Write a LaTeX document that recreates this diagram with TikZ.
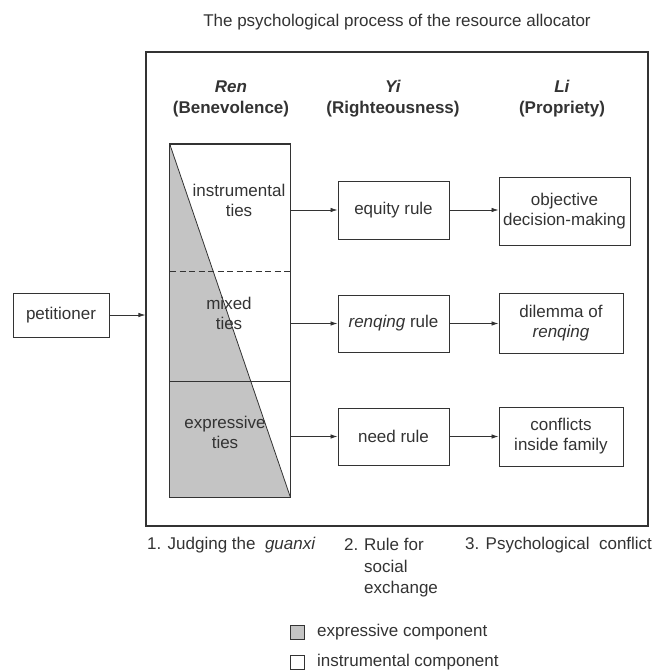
\documentclass[tikz,border=0pt]{standalone}
\usepackage{fontspec}
\setmainfont{Liberation Sans}
\usetikzlibrary{arrows.meta}
\definecolor{ink}{HTML}{333333}
\definecolor{greyfill}{HTML}{C4C4C4}
\begin{document}
\begin{tikzpicture}[x=1pt,y=-1pt,
  font=\fontsize{17}{20}\selectfont, text=ink,
  box/.style={draw=ink, line width=0.9pt, inner sep=0pt, align=center},
  lbl/.style={inner sep=0pt, align=center},
  hdr/.style={inner sep=0pt, align=center, font=\fontsize{17}{21}\selectfont\bfseries},
  arr/.style={draw=ink, line width=0.8pt, -{Latex[length=7pt,width=4.5pt]}}]
\useasboundingbox (0,0) rectangle (652,671);
% title
\node[lbl] (title) at (397,22) {The psychological process of the resource allocator};
% frame
\node[box, line width=1.1pt, minimum width=502pt, minimum height=474pt] (frame) at (397,289) {};
% headers
\node[hdr] (hren) at (231,99) {\textit{Ren}\\(Benevolence)};
\node[hdr] (hyi) at (393,99) {\textit{Yi}\\(Righteousness)};
\node[hdr] (hli) at (562,99) {\textit{Li}\\(Propriety)};
% tall box
\node[box, minimum width=120pt, minimum height=353pt] (ren) at (230,320.5) {};
\fill[greyfill] (ren.north west) -- (ren.south east) -- (ren.south west) -- cycle;
\draw[ink, line width=0.8pt] (ren.north west) -- (ren.south east);
\coordinate (dl) at (170,271);
\coordinate (dr) at (290,271);
\coordinate (sl) at (170,381);
\coordinate (sr) at (290,381);
\draw[ink, line width=0.8pt, dash pattern=on 6pt off 3.5pt] (dl) -- (dr);
\draw[ink, line width=0.8pt] (sl) -- (sr);
\draw[ink, line width=0.9pt] (ren.north west) rectangle (ren.south east);
\node[lbl] (tinst) at (239,200) {instrumental\\ties};
\node[lbl] (tmix) at (229,313) {mixed\\ties};
\node[lbl] (texp) at (225,432) {expressive\\ties};
% rule boxes
\node[box, minimum width=111pt, minimum height=58pt] (eq) at (393.5,210) {equity rule};
\node[box, minimum width=111pt, minimum height=57pt] (rq) at (393.5,323.5) {\textit{renqing} rule};
\node[box, minimum width=111pt, minimum height=57pt] (nd) at (393.5,436.5) {need rule};
% outcome boxes
\node[box, minimum width=131pt, minimum height=68pt] (obj) at (564.5,211) {objective\\decision-making};
\node[box, minimum width=124pt, minimum height=60pt] (dil) at (561,323) {dilemma of\\\textit{renqing}};
\node[box, minimum width=124pt, minimum height=59pt] (con) at (561,436.5) {conflicts\\inside family};
% petitioner
\node[box, minimum width=96pt, minimum height=44pt] (pet) at (61,315) {petitioner};
% arrows
\draw[arr] (pet.east) -- (pet.east -| frame.west);
\draw[arr] (eq.west -| ren.east) -- (eq.west);
\draw[arr] (rq.west -| ren.east) -- (rq.west);
\draw[arr] (nd.west -| ren.east) -- (nd.west);
\draw[arr] (eq.east) -- (eq.east -| obj.west);
\draw[arr] (rq.east) -- (rq.east -| dil.west);
\draw[arr] (nd.east) -- (nd.east -| con.west);
% bottom labels
\node[lbl, anchor=west] (b1) at (147,545) {1. Judging the \ \textit{guanxi}};
\node[lbl, anchor=west] (b2n) at (344,545) {2.};
\node[lbl, anchor=north west, align=left, font=\fontsize{17}{21.5}\selectfont] (b2) at (364,538) {Rule for\\social\\exchange};
\node[lbl, anchor=west] (b3) at (465,545) {3. Psychological \ conflict};
% legend
\node[box, fill=greyfill, minimum width=14pt, minimum height=14pt] (lg1) at (297,632) {};
\node[box, fill=white, minimum width=14pt, minimum height=14pt] (lg2) at (297,662) {};
\node[lbl, anchor=west] (lt1) at (317,632) {expressive component};
\node[lbl, anchor=west] (lt2) at (317,662) {instrumental component};
\end{tikzpicture}
\end{document}
